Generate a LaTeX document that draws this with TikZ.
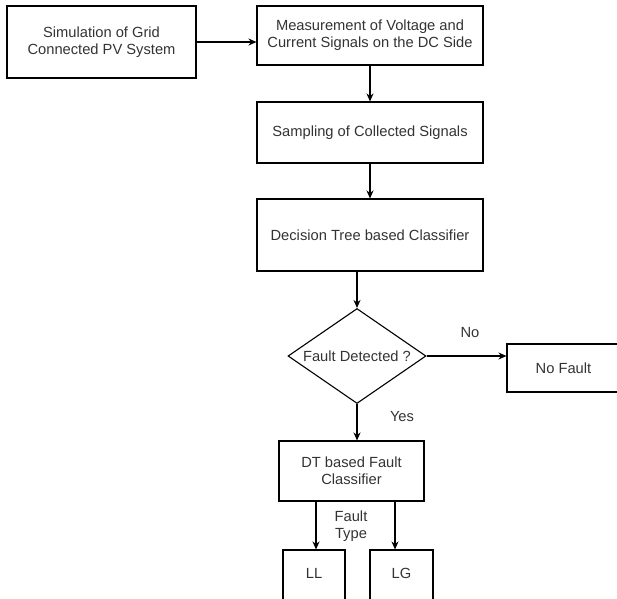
\documentclass[tikz,border=0pt]{standalone}
\usepackage{fontspec}
\setmainfont{Liberation Sans}
\usetikzlibrary{shapes.geometric,arrows.meta}
\definecolor{txt}{HTML}{333333}
\tikzset{
  every node/.style={font=\fontsize{14.7}{17}\selectfont, text=txt},
  box/.style={draw=black, line width=1.1pt, rectangle, align=center, inner sep=0pt},
  dia/.style={draw=black, line width=1.1pt, diamond, inner sep=0pt, align=center},
  lbl/.style={align=center, inner sep=0pt},
  arr/.style={line width=1.1pt, -{Stealth[length=8pt,width=7pt]}}
}
\begin{document}
\begin{tikzpicture}[x=1pt,y=-1pt]
\useasboundingbox (0,0) rectangle (617,598);
\clip (0,0) rectangle (617,598);
\node[box, minimum width=189, minimum height=72] (b1) at (101.5,42) {Simulation of Grid\\Connected PV System};
\node[box, minimum width=226, minimum height=59] (b2) at (370,35.5) {Measurement of Voltage and\\Current Signals on the DC Side};
\node[box, minimum width=226, minimum height=61] (b3) at (370,132.5) {Sampling of Collected Signals};
\node[box, minimum width=226, minimum height=72] (b4) at (370,235) {Decision Tree based Classifier};
\node[dia, minimum width=138, minimum height=95] (d) at (357,356) {};
\node[lbl] (dt) at (357,356) {Fault Detected ?};
\node[box, minimum width=113, minimum height=48] (nf) at (563.5,368) {No Fault};
\node[box, minimum width=145, minimum height=60] (dtc) at (351.5,471) {DT based Fault\\Classifier};
\node[box, minimum width=62, minimum height=50] (ll) at (314,575) {};
\node[lbl] at (314,573) {LL};
\node[box, minimum width=63, minimum height=50] (lg) at (401.5,575) {};
\node[lbl] at (401.5,573) {LG};
\node[lbl] (no) at (470,333) {No};
\node[lbl] (yes) at (402,417) {Yes};
\node[lbl] (ft) at (351,526) {Fault\\Type};
\draw[arr] (b1.east) -- (b1.east -| b2.west);
\draw[arr] (b2.south) -- (b3.north);
\draw[arr] (b3.south) -- (b4.north);
\draw[arr] (d.north |- b4.south) -- (d.north);
\draw[arr] (d.east) -- (d.east -| nf.west);
\draw[arr] (d.south) -- (d.south |- dtc.north);
\draw[arr] ([xshift=2pt]ll.north |- dtc.south) -- ([xshift=2pt]ll.north);
\draw[arr] ([xshift=-6.5pt]lg.north |- dtc.south) -- ([xshift=-6.5pt]lg.north);
\end{tikzpicture}
\end{document}
